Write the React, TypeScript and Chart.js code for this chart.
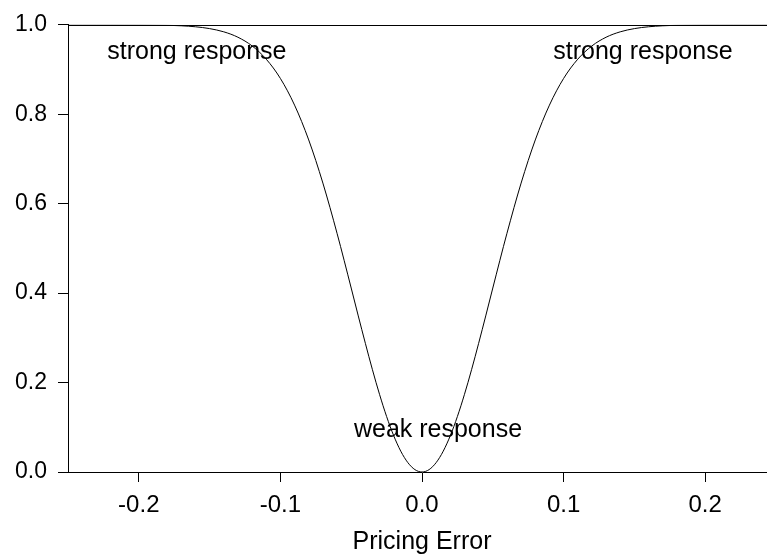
import React, { useEffect, useRef } from "react";
import { Chart, registerables } from "chart.js";

Chart.register(...registerables);

// Pricing error (x) and response (y)
const xValues = [
  -0.25, -0.24, -0.23, -0.22, -0.21, -0.2, -0.19, -0.18, -0.17, -0.16, -0.15, -0.14, -0.13, -0.12,
  -0.11, -0.1, -0.09, -0.08, -0.07, -0.06, -0.05, -0.045, -0.04, -0.035, -0.03, -0.025, -0.02,
  -0.015, -0.01, -0.005, 0, 0.005, 0.01, 0.015, 0.02, 0.025, 0.03, 0.035, 0.04, 0.045, 0.05,
  0.06, 0.07, 0.08, 0.09, 0.1, 0.11, 0.12, 0.13, 0.14, 0.15, 0.16, 0.17, 0.18, 0.19, 0.2,
  0.21, 0.22, 0.23, 0.24, 0.25,
];
const responseValues = [
  1.0, 1.0, 1.0, 1.0, 0.9999, 0.9998, 0.9995, 0.999, 0.9978, 0.9956, 0.9915, 0.9843, 0.9722, 0.9528,
  0.9231, 0.88, 0.8204, 0.7425, 0.6461, 0.5338, 0.4114, 0.349, 0.2877, 0.2287, 0.1737, 0.1241, 0.0813,
  0.0466, 0.021, 0.0053, 0, 0.0053, 0.021, 0.0466, 0.0813, 0.1241, 0.1737, 0.2287, 0.2877, 0.349, 0.4114,
  0.5338, 0.6461, 0.7425, 0.8204, 0.88, 0.9231, 0.9528, 0.9722, 0.9843, 0.9915, 0.9956, 0.9978, 0.999, 0.9995, 0.9998,
  0.9999, 1.0, 1.0, 1.0, 1.0,
];

const xTicks = [-0.2, -0.1, 0.0, 0.1, 0.2];
const yTicks = [0.0, 0.2, 0.4, 0.6, 0.8, 1.0];

const annotationTexts = ["strong response", "strong response", "weak response"];
const annotationX = [-0.159, 0.156, 0.0113];
const annotationY = [0.938, 0.938, 0.093];

const FONT = "'Liberation Sans', Arial, sans-serif";

const textPlugin = {
  id: "textPlugin",
  afterDatasetsDraw(chart: any) {
    const { ctx, chartArea, scales } = chart;
    ctx.save();
    // top frame line
    ctx.strokeStyle = "#000";
    ctx.lineWidth = 1;
    ctx.beginPath();
    ctx.moveTo(chartArea.left, Math.round(chartArea.top) + 0.5);
    ctx.lineTo(chartArea.right, Math.round(chartArea.top) + 0.5);
    ctx.stroke();
    ctx.fillStyle = "#000";
    ctx.font = `25px ${FONT}`;
    ctx.textAlign = "center";
    ctx.textBaseline = "middle";
    annotationTexts.forEach((t, i) => {
      ctx.fillText(t, scales.x.getPixelForValue(annotationX[i]), scales.y.getPixelForValue(annotationY[i]));
    });
    ctx.restore();
  },
};

export default function App() {
  const ref = useRef<HTMLCanvasElement>(null);
  useEffect(() => {
    if (!ref.current) return;
    const chart = new Chart(ref.current, {
      type: "line",
      data: {
        datasets: [
          {
            data: xValues.map((x, i) => ({ x, y: responseValues[i] })),
            borderColor: "#000",
            borderWidth: 1,
            pointRadius: 0,
            fill: false,
            cubicInterpolationMode: "monotone",
          },
        ],
      },
      options: {
        animation: false,
        responsive: true,
        maintainAspectRatio: false,
        layout: { padding: { top: 22, right: 0, left: 0, bottom: 0 } },
        plugins: { legend: { display: false }, tooltip: { enabled: false } },
        scales: {
          x: {
            type: "linear",
            min: -0.25,
            max: 0.25,
            afterBuildTicks: (s: any) => {
              s.ticks = xTicks.map((v) => ({ value: v }));
            },
            afterFit: (s: any) => {
              s.height = 83;
            },
            grid: { drawOnChartArea: false, drawTicks: true, tickLength: 10, color: "#000" },
            border: { display: true, color: "#000", width: 1 },
            ticks: {
              color: "#000",
              font: { family: FONT, size: 24 },
              padding: 9,
              maxRotation: 0,
              callback: (v: any) => Number(v).toFixed(1),
            },
            title: {
              display: true,
              text: "Pricing Error",
              color: "#000",
              font: { family: FONT, size: 25, lineHeight: 1 },
              padding: { top: 0, bottom: 0 },
            },
          },
          y: {
            type: "linear",
            min: 0,
            max: 1,
            afterBuildTicks: (s: any) => {
              s.ticks = yTicks.map((v) => ({ value: v }));
            },
            afterFit: (s: any) => {
              s.width = 68;
            },
            grid: { drawOnChartArea: false, drawTicks: true, tickLength: 10, color: "#000" },
            border: { display: true, color: "#000", width: 1 },
            ticks: {
              color: "#000",
              font: { family: FONT, size: 23 },
              padding: 11,
              callback: (v: any) => Number(v).toFixed(1),
            },
          },
        },
      },
      plugins: [textPlugin],
    } as any);
    return () => chart.destroy();
  }, []);
  return (
    <div style={{ position: "fixed", left: 0, top: 0, width: 767, height: 555, overflow: "hidden", background: "#fff" }}>
      <div style={{ position: "absolute", left: 0, top: 0, width: 776, height: 555 }}>
        <canvas ref={ref} />
      </div>
    </div>
  );
}
